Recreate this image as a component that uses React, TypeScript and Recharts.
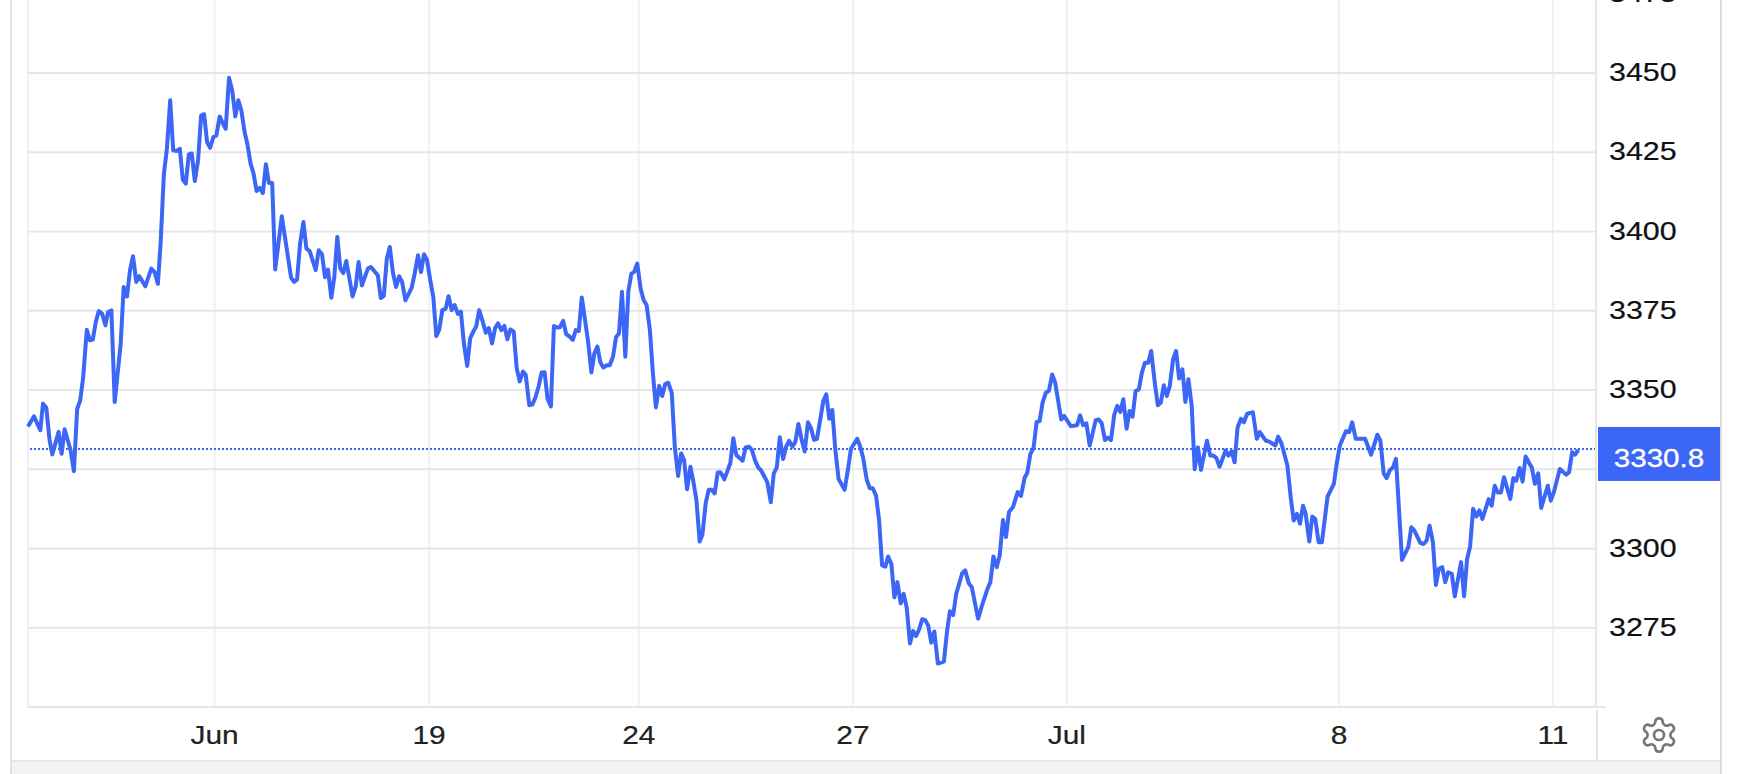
import { LineChart, Line, XAxis, YAxis, CartesianGrid, ReferenceLine } from 'recharts';

// reading number along the time axis, weekends squeezed out like on the source chart
const readings = [
  0, 2, 4.1, 5, 6.1, 7.2, 8.1, 10.2, 11.2, 12.2, 14.2, 15.3, 16.4, 17.4, 18.4, 19.6, 20.6, 21.6, 22.6, 23.6,
  24.7, 25.8, 26.7, 27.8, 28.9, 30.9, 31.9, 33, 34, 35, 36.1, 37.1, 39.1, 41.1, 42.2, 43.3, 44.2, 45.3, 46.3, 47.4,
  48.4, 49.6, 50.6, 51.6, 52.6, 53.6, 54.6, 55.6, 56.7, 57.7, 58.7, 59.7, 60.7, 61.8, 62.8, 63.9,
  65, 65.9, 67, 68.1, 69.1, 70.1, 71.1, 72.2, 73.1, 74.2, 75.2, 76.2, 77.2, 78.3, 79.3, 80.3, 81.4, 82.4, 84.6, 87.7,
  88.7, 89.7, 90.7, 91.8, 92.8, 93.9, 95.9, 96.9, 98, 99, 100, 101.1, 102.1, 103.1, 104.1, 105.1, 106.1, 108.2, 109.2, 110.2,
  111.3, 113.3, 114.3, 116.6, 117.6, 118.6, 119.6, 120.6, 121.7, 122.7, 123.7, 124.7, 125.8, 127.9, 128.9,
  130, 131, 132, 133, 134.1, 135.1, 136.1, 137.1, 138.1, 139.2, 140.2, 141.2, 142.2, 143.3, 144.3, 145.3, 146.4, 147.4, 148.4, 149.4,
  150.4, 151.6, 152.6, 153.6, 154.7, 155.7, 156.7, 157.8, 158.8, 159.8, 160.8, 161.9, 162.9, 163.9, 165, 165.9, 167.1, 168.1, 169.1, 170.2,
  171.2, 172.2, 173.2, 174.3, 175.3, 176.4, 177.3, 178.4, 179.4, 180.6, 181.6, 182.6, 183.6, 184.6, 185.6, 186.7, 187.8, 188.8, 189.8, 190.8,
  191.8, 192.9, 193.9,
  195, 196, 197, 198, 199.1, 200.1, 201.1, 202.1, 203.1, 204.2, 205.2, 206.2, 207.3, 208.3, 209.3, 210.4, 211.4, 212.4, 213.4, 214.6,
  215.6, 216.7, 217.7, 218.7, 219.7, 220.8, 221.8, 222.8, 223.9, 224.8, 225.9, 226.9, 227.9, 228.9, 229.9, 230.9, 232.1, 234.1, 235.1, 236.1,
  238.2, 239.2, 240.3, 241.3, 242.3, 243.4, 244.4, 246.4, 247.6, 248.6, 249.6, 250.6, 251.7, 252.7, 253.7, 254.8, 255.8, 256.8, 257.9, 258.9,
  260, 261, 262, 263, 265.1, 266.1, 267.1, 268.1, 269.1, 270.2, 272.2, 273.3, 274.3, 276.4, 277.4, 278.4, 279.6, 280.6, 281.6, 282.7,
  283.7, 284.7, 285.8, 286.7, 287.8, 288.8, 289.8, 290.9, 291.9, 292.9, 294, 295, 296, 297.1, 298.1, 299.1, 300.1, 301.1, 302.1, 303.3,
  305.3, 306.3, 307.3, 308.4, 309.4, 311.4, 312.4, 313.6, 314.6, 316.7, 317.8, 319.8, 320.8, 321.8, 322.9, 323.9,
  325, 326, 327, 328.3, 329.9, 331, 332.2, 333.1, 334.1, 335.2, 336.2, 337.2, 338.2, 339.3, 340.3, 341.4, 342.4, 344.4, 345.4, 347.6,
  349.7, 350.7, 351.7, 352.8, 353.9, 354.8, 355.9, 356.9, 357.9, 359, 359.9, 361, 362.1, 363.1, 364.1, 365.1, 366.2, 367.2, 368.2, 369.2,
  370.3, 371.3, 372.3, 373.4, 374.4, 375.6, 376.6, 377.6, 378.6, 379.6, 380.6, 381.7, 382.7, 383.7, 384.8, 385.8, 386.8, 387.9, 388.9,
  390, 391, 393, 394.1, 395.1, 396.1, 397.2, 399.2, 400.2, 401.2, 402.2, 403.2, 404.3, 405.3, 406.4, 408.3, 409.6, 410.6, 412.6, 413.6,
  415.8, 416.7, 417.8, 419.8, 420.9, 421.9, 423, 424, 425, 425.9, 427.1, 428.1, 429.1, 430.2, 431.3, 433.2, 435.3, 436.3, 437.3, 439.3,
  440.4, 441.4, 442.6, 444.6, 445.7, 447.7, 449.8, 450.8, 451.9, 452.9, 453.9,
  455, 456, 458, 460.1, 461.1, 462.1, 464.1, 465.2, 466.2, 467.2, 468.3, 469.3, 470.3, 471.4, 472.4, 473.4, 474.6, 475.6, 477.7, 478.7,
  479.7, 480.7, 481.7, 482.8, 483.8, 484.8, 486.9, 487.9, 488.9, 489.9, 491, 492, 494.1, 495.1, 496.1, 497.2, 498.2, 499.2, 501.3, 502.3,
  503.4, 504.4, 506.6, 507.6, 508.6, 510.6, 512.7, 513.7, 514.7, 515.7, 516.8,
];

const prices = [
  3338.5, 3341.7, 3337.3, 3345.7, 3344.4, 3334.1, 3329.7, 3336.8, 3329.9, 3337.6, 3331, 3324.4, 3344.1, 3346.7, 3354.1, 3369, 3365.7, 3365.9, 3371.5, 3374.9,
  3374.1, 3370.4, 3374.6, 3375.1, 3346.2, 3364.6, 3382.5, 3379.5, 3387.8, 3392.2, 3384.1, 3385.9, 3382.7, 3388.3, 3387.2, 3383.5, 3396.2, 3418.2, 3426.1, 3441.4,
  3425.6, 3425.4, 3426.1, 3416.4, 3415.1, 3424.3, 3424.6, 3415.9, 3422.5, 3436.6, 3437, 3428.2, 3426.4, 3429.8, 3430.3, 3436.3,
  3434, 3432.4, 3448.5, 3444.3, 3436.3, 3441.4, 3438.2, 3431.4, 3427.7, 3421.4, 3418.2, 3412.8, 3413.8, 3412.1, 3421.2, 3415.3, 3415.3, 3388, 3404.8, 3385.4,
  3384.1, 3384.9, 3396.2, 3403, 3394.6, 3393.8, 3387.8, 3394.1, 3392.8, 3385.6, 3388, 3379.1, 3385.6, 3398.3, 3388.3, 3386.9, 3390.7, 3379.5, 3382.5, 3390.4,
  3383, 3388.3, 3388.8, 3386.2, 3379, 3379.7, 3391.4, 3395.1, 3386.7, 3382.5, 3385.9, 3384.1, 3378.3, 3382.3, 3386.7,
  3392.5, 3387.2, 3392.8, 3391.1, 3384.6, 3379.4, 3367, 3369.1, 3375.2, 3375.6, 3379.6, 3375.2, 3376.8, 3374, 3374.7, 3364.7, 3357.6, 3366.3, 3368.4, 3370,
  3375.2, 3371.5, 3368.1, 3369.5, 3364.7, 3369.5, 3371, 3368.9, 3370.2, 3366, 3369.1, 3368.4, 3356.9, 3352.7, 3355.8, 3354.8, 3345.2, 3345.4, 3347.5, 3351.1,
  3355.5, 3355.6, 3347.1, 3344.8, 3370.2, 3369.7, 3369.8, 3371.8, 3367.6, 3366.8, 3365.8, 3368.9, 3368.6, 3379.2, 3372.6, 3365.3, 3355.5, 3361.6, 3363.7, 3358.7,
  3357.1, 3357.8, 3357.8,
  3360.5, 3366.6, 3367.9, 3381, 3360.5, 3381, 3386.6, 3387.3, 3389.9, 3382, 3378.4, 3376.8, 3368.9, 3355.3, 3344.5, 3351.3, 3348.1, 3351.9, 3352.3, 3349,
  3332.1, 3322.9, 3330, 3327.9, 3318.7, 3325.8, 3321.1, 3315.3, 3302.2, 3304.3, 3314.3, 3318.5, 3318.5, 3317.4, 3324, 3324, 3321.8, 3326.9, 3334.8, 3329.5,
  3327.7, 3331.9, 3332.1, 3331.1, 3327.9, 3325.6, 3324.6, 3321, 3314.6, 3323.7, 3325.6, 3335.1, 3328.2, 3332.1, 3334, 3332.1, 3333.7, 3339.3, 3334.2, 3330.6,
  3339.8, 3338, 3334.3, 3334.6, 3346.5, 3348.6, 3340.9, 3343.7, 3331.2, 3321.9, 3318.5, 3324.8, 3331.4, 3334.6, 3332.2, 3328.5, 3321.6, 3319, 3319, 3316.6,
  3308.9, 3294.7, 3294.3, 3297.5, 3295, 3284.6, 3289.4, 3282.7, 3285.7, 3281.4, 3270, 3274, 3272.4, 3274.6, 3277.7, 3277.4, 3275.6, 3270.3, 3273.8, 3263.7,
  3264.3, 3273.5, 3280.2, 3279, 3285.7, 3292.2, 3293.1, 3289, 3287.8, 3277.9, 3281.4, 3287.2, 3289.4, 3297.5, 3294.1, 3297.8,
  3309, 3303.6, 3311.5, 3313, 3317.8, 3316.6, 3322.3, 3323.9, 3329.7, 3331.8, 3339.9, 3340.2, 3346, 3349.2, 3349.7, 3354.9, 3352.3, 3340.7, 3341.8, 3338.6,
  3338.9, 3342, 3338.9, 3339.5, 3332.5, 3336, 3340.5, 3340.7, 3339.5, 3334.2, 3335, 3334.2, 3342.3, 3345, 3343.1, 3347.1, 3337.8, 3343.4, 3341.6, 3349.7,
  3350.2, 3355.5, 3358.6, 3358.6, 3362.3, 3352.3, 3345.2, 3346, 3351.5, 3348.1, 3351.3, 3359.7, 3362.3, 3353.6, 3356.5, 3346.2, 3353.4, 3345, 3325,
  3331.9, 3324.8, 3334, 3329.3, 3329.3, 3328.6, 3325.8, 3330.9, 3329.3, 3330.7, 3327.2, 3338.2, 3340.9, 3339.8, 3342.5, 3343, 3334.6, 3336.7, 3334, 3333.8,
  3332.5, 3335.3, 3333.2, 3326.2, 3316.2, 3308.8, 3310.9, 3307.8, 3313.5, 3310.9, 3302.2, 3310.1, 3309.3, 3302, 3302, 3316.4, 3320.4, 3327.2, 3332.5, 3337,
  3336.7, 3339.8, 3334.6, 3334.6, 3334.6, 3329.6, 3335.9, 3334, 3323.7, 3322.2, 3324.6,
  3325.6, 3328.3, 3296.4, 3300.4, 3306.7, 3305.7, 3301.8, 3301.4, 3302.5, 3307.2, 3302, 3288.5, 3293.6, 3294.1, 3289.4, 3292.5, 3292, 3284.9, 3295.7, 3284.9,
  3296.7, 3300.6, 3312.5, 3310.1, 3312, 3309.3, 3315.6, 3313.5, 3319.8, 3317.7, 3317.7, 3322.5, 3315.6, 3322.2, 3321.4, 3325.4, 3321.1, 3329, 3325.4, 3320.4,
  3323.7, 3312.8, 3319.8, 3315.1, 3317.7, 3325.1, 3323.3, 3324.1, 3330.4, 3329.6, 3331.1,
];

const dateTicks = [62.2, 133.7, 203.6, 275, 346.3, 437, 508.3];
const dateLabels = ['Jun', '19', '24', '27', 'Jul', '8', '11'];
const priceTicks = [3250, 3275, 3300, 3325, 3350, 3375, 3400, 3425, 3450, 3475, 3500];
// no label on these: the bottom edge, and the level hidden behind the price tag
const unlabelledPrices = [3250, 3325];
const lastPrice = '3330.8';
const lastPriceLevel = 3331.4;

const chartData = readings.map((reading, i) => ({ reading, price: prices[i] }));

const BLUE = '#3b66f6';
const FONT = '"Liberation Sans", Arial, sans-serif';

// source text is a bit wider than Liberation, so stretch it sideways
const PriceTick = ({ x, y, payload }: any) => {
  if (unlabelledPrices.includes(payload.value)) return null;
  return (
    <text
      transform={`translate(${x + 5} ${y + 8}) scale(1.17 1)`}
      fontFamily={FONT}
      fontSize={26}
      fill="#111"
      stroke="#111"
      strokeWidth={0.2}
    >
      {payload.value}
    </text>
  );
};

const DateTick = ({ x, y, payload }: any) => (
  <text
    transform={`translate(${x} ${y + 29}) scale(1.15 1)`}
    textAnchor="middle"
    fontFamily={FONT}
    fontSize={26}
    fill="#222"
    stroke="#222"
    strokeWidth={0.2}
  >
    {dateLabels[dateTicks.indexOf(payload.value)]}
  </text>
);

const PriceTag = ({ viewBox }: any) => {
  const left = viewBox.x + viewBox.width + 2;
  return (
    <g>
      <rect x={left} y={viewBox.y - 22} width={122} height={54} fill={BLUE} />
      <text
        transform={`translate(${left + 61} ${viewBox.y + 18}) scale(1.14 1)`}
        textAnchor="middle"
        fontFamily={FONT}
        fontSize={26}
        fill="#fff"
        stroke="#fff"
        strokeWidth={0.3}
      >
        {lastPrice}
      </text>
    </g>
  );
};

const Box = ({ style }: any) => <div style={{ position: 'absolute', ...style }} />;

export default function App() {
  return (
    <div style={{ position: 'absolute', left: 0, top: 0, width: 1738, height: 774, overflow: 'hidden', background: '#fff' }}>
      <div style={{ position: 'absolute', left: 0, top: -100 }}>
        <LineChart
          width={1738}
          height={874}
          data={chartData}
          margin={{ top: 14.5, right: 0, bottom: 0, left: 28 }}
        >
          <CartesianGrid horizontal={false} stroke="#eff2f4" strokeWidth={2} />
          <CartesianGrid vertical={false} stroke="#e6e6e6" strokeWidth={2} />
          <XAxis
            dataKey="reading"
            type="number"
            domain={[0, 522.67]}
            ticks={dateTicks}
            interval={0}
            height={67}
            tickLine={false}
            axisLine={{ stroke: '#e6e6e6', strokeWidth: 2 }}
            tick={<DateTick />}
          />
          <YAxis
            orientation="right"
            domain={[3250, 3500]}
            ticks={priceTicks}
            interval={0}
            width={142}
            tickLine={false}
            axisLine={{ stroke: '#e6e6e6', strokeWidth: 2 }}
            tick={<PriceTick />}
          />
          <ReferenceLine
            y={lastPriceLevel}
            stroke={BLUE}
            strokeWidth={2}
            strokeDasharray="2 2"
            label={<PriceTag />}
          />
          <Line
            type="linear"
            dataKey="price"
            stroke={BLUE}
            strokeWidth={4}
            strokeLinejoin="round"
            dot={false}
            isAnimationActive={false}
          />
        </LineChart>
      </div>

      <Box style={{ left: 10, top: 0, width: 2, height: 774, background: '#e0e0e0' }} />
      <Box style={{ left: 1720, top: 0, width: 2, height: 774, background: '#dcdcdc' }} />
      <Box style={{ left: 1596, top: 706, width: 10, height: 2, background: '#e6e6e6' }} />
      <Box style={{ left: 1596, top: 710, width: 2, height: 50, background: '#e6e6e6' }} />
      <Box style={{ left: 12, top: 760, width: 1708, height: 14, background: '#f3f3f3', borderTop: '2px solid #e6e6e6', boxSizing: 'border-box' }} />

      <svg
        style={{ position: 'absolute', left: 1639, top: 715 }}
        width={40}
        height={40}
        viewBox="0 0 24 24"
        fill="none"
        stroke="#777"
        strokeWidth={1.6}
      >
        <path d="M12.22 2h-.44a2 2 0 0 0-2 2v.18a2 2 0 0 1-1 1.73l-.43.25a2 2 0 0 1-2 0l-.15-.08a2 2 0 0 0-2.73.73l-.22.38a2 2 0 0 0 .73 2.73l.15.1a2 2 0 0 1 1 1.72v.51a2 2 0 0 1-1 1.74l-.15.09a2 2 0 0 0-.73 2.73l.22.38a2 2 0 0 0 2.73.73l.15-.08a2 2 0 0 1 2 0l.43.25a2 2 0 0 1 1 1.73V20a2 2 0 0 0 2 2h.44a2 2 0 0 0 2-2v-.18a2 2 0 0 1 1-1.73l.43-.25a2 2 0 0 1 2 0l.15.08a2 2 0 0 0 2.73-.73l.22-.39a2 2 0 0 0-.73-2.73l-.15-.08a2 2 0 0 1-1-1.74v-.5a2 2 0 0 1 1-1.74l.15-.09a2 2 0 0 0 .73-2.73l-.22-.38a2 2 0 0 0-2.73-.73l-.15.08a2 2 0 0 1-2 0l-.43-.25a2 2 0 0 1-1-1.73V4a2 2 0 0 0-2-2z" />
        <circle cx={12} cy={12} r={3} />
      </svg>
    </div>
  );
}
